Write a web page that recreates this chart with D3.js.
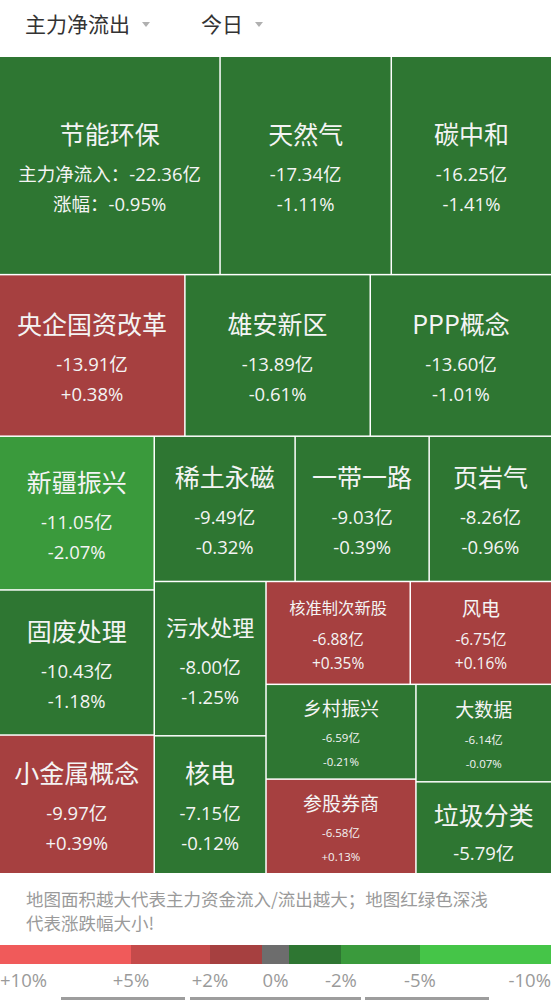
<!DOCTYPE html>
<html><head><meta charset="utf-8">
<script src="https://cdn.jsdelivr.net/npm/d3@7"></script>
<style>
html,body{margin:0;padding:0;background:#fff;}
svg{display:block;}
text{font-family:"Open Sans","Noto Sans CJK SC",sans-serif;}
.cjk{font-family:"Noto Sans CJK SC",sans-serif;}
</style></head><body>
<svg id="chart" width="551" height="1000"></svg>
<script>
// ---- data ----
const categories = ["节能环保","天然气","碳中和","央企国资改革","雄安新区","PPP概念","新疆振兴","固废处理","小金属概念","稀土永磁","一带一路","页岩气","污水处理","核电","核准制次新股","风电","乡村振兴","参股券商","大数据","垃圾分类"];
const netFlow = [-22.36,-17.34,-16.25,-13.91,-13.89,-13.60,-11.05,-10.43,-9.97,-9.49,-9.03,-8.26,-8.00,-7.15,-6.88,-6.75,-6.59,-6.58,-6.14,-5.79];
const pctChange = [-0.95,-1.11,-1.41,0.38,-0.61,-1.01,-2.07,-1.18,0.39,-0.32,-0.39,-0.96,-1.25,-0.12,0.35,0.16,-0.21,0.13,-0.07,null];
const headerLabels = ["主力净流出","今日"];
const noteLines = ["地图面积越大代表主力资金流入/流出越大；地图红绿色深浅","代表涨跌幅大小!"];
const legendTicks = [10,5,2,0,-2,-5,-10];
const legendLabels = ["+10%","+5%","+2%","0%","-2%","-5%","-10%"];

// ---- setup ----
const W = 551;
const svg = d3.select("#chart");
svg.append("rect").attr("width",W).attr("height",1000).attr("fill","#fff");

const colorScale = d3.scaleThreshold()
  .domain([-5,-2,0,2,5])
  .range(["#45c548","#3a9a3c","#2e7632","#a64040","#c54a4a","#f05a5a"]);
const neutralGreen = "#2e7632";

// ---- header ----
const headerX = [25,201];
const hdr = svg.append("g");
headerLabels.forEach((t,i)=>{
  const tx = hdr.append("text").attr("class","cjk").attr("x",headerX[i]).attr("y",32)
    .attr("font-size",21).attr("fill","#333").text(t);
  const len = tx.node().getComputedTextLength();
  const cx = headerX[i] + len + 16;
  hdr.append("path").attr("d",`M${cx-4},22 L${cx+4},22 L${cx},27 Z`).attr("fill","#b0b0b0");
});

// ---- treemap ----
const mapTop = 57, mapBottom = 873;
const items = categories.map((name,i)=>({name, flow: netFlow[i], pct: pctChange[i]}));
const root = d3.hierarchy({children: items})
  .sum(d => d.flow != null ? Math.abs(d.flow) : 0)
  .sort((a,b)=>b.value-a.value);
d3.treemap()
  .tile(d3.treemapSquarify.ratio(1))
  .size([W, mapBottom-mapTop])
  .paddingInner(1.5)(root);

const fmtFlow = v => v.toFixed(2) + "亿";
const fmtPct = v => (v>0?"+":"") + v.toFixed(2) + "%";

const cells = svg.append("g").attr("transform",`translate(0,${mapTop})`)
  .selectAll("g").data(root.leaves()).join("g")
  .attr("transform", d=>`translate(${d.x0},${d.y0})`);

cells.append("rect")
  .attr("width", d=>d.x1-d.x0)
  .attr("height", d=>d.y1-d.y0)
  .attr("fill", d=> d.data.pct==null ? neutralGreen : colorScale(d.data.pct));

cells.each(function(d){
  const g = d3.select(this);
  const w = d.x1-d.x0, h = d.y1-d.y0;
  const cx = w/2, cy = h/2;
  const n = d.data.name.length;
  const first = d.data.name === categories[0];
  let titleSize, valSize, offs;
  const flowOnly = d.data.pct == null;
  if (flowOnly) {
    titleSize = 25; valSize = 18.5; offs = [-14, 25];
  } else if (h < 110) {
    titleSize = Math.min(19, (w-45)/n);
    valSize = h < 100 ? 11.5 : 15.5;
    offs = [-h*0.255, 6, 30];
  } else {
    titleSize = Math.min(25, (w-22)/n);
    valSize = 18.5;
    offs = [-32.5, 8, 38];
  }
  const fill = "#f4f4f4";
  g.append("text").attr("class","cjk").attr("x",cx).attr("y",cy+offs[0])
    .attr("text-anchor","middle").attr("dominant-baseline","central")
    .attr("font-size",titleSize).attr("fill",fill).text(d.data.name);
  g.append("text").attr("x",cx).attr("y",cy+offs[1])
    .attr("text-anchor","middle").attr("dominant-baseline","central")
    .attr("font-size",valSize).attr("fill",fill)
    .text((first?"主力净流入：":"") + fmtFlow(d.data.flow));
  if (!flowOnly) {
    g.append("text").attr("x",cx).attr("y",cy+offs[2])
      .attr("text-anchor","middle").attr("dominant-baseline","central")
      .attr("font-size",valSize).attr("fill",fill)
      .text((first?"涨幅：":"") + fmtPct(d.data.pct));
  }
});

// ---- note ----
noteLines.forEach((t,i)=>{
  svg.append("text").attr("class","cjk").attr("font-size",17.5).attr("fill","#9a9a9a")
    .attr("x",26).attr("y",906+i*23.5).text(t);
});

// ---- legend ----
const lx = d3.scaleLinear().domain(legendTicks).range([0,131,210,275.5,341,420,W]);
const leg = svg.append("g");
for (let i=0;i<legendTicks.length-1;i++){
  const a = legendTicks[i], b = legendTicks[i+1];
  leg.append("rect").attr("x",lx(a)).attr("y",945).attr("width",lx(b)-lx(a)).attr("height",19)
    .attr("fill",colorScale((a+b)/2));
}
leg.append("rect").attr("x",lx(0)-13.5).attr("y",945).attr("width",27).attr("height",19).attr("fill","#6d6d6d");
legendLabels.forEach((t,i)=>{
  const last = i===legendLabels.length-1;
  leg.append("text").attr("x", lx(legendTicks[i]))
    .attr("y",987)
    .attr("text-anchor", i===0 ? "start" : last ? "end" : "middle")
    .attr("font-size",18.5).attr("fill","#9a9a9a").text(t);
});
[[61,185],[190,361],[365,489]].forEach(([a,b])=>{
  leg.append("rect").attr("x",a).attr("y",997).attr("width",b-a).attr("height",3).attr("fill","#9d9d9d");
});
</script>
</body></html>
